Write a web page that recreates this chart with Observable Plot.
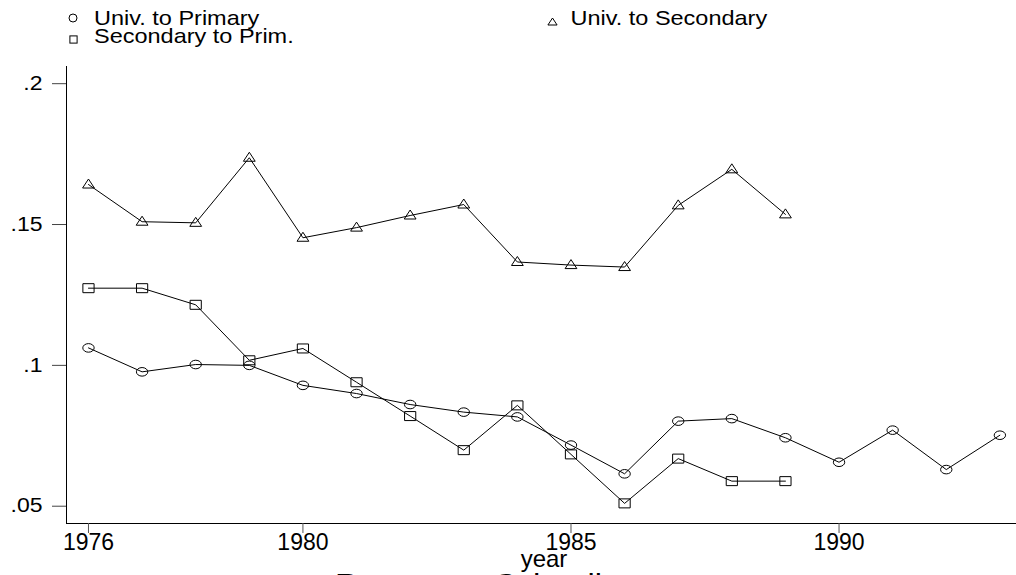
<!DOCTYPE html>
<html><head><meta charset="utf-8">
<script src="https://cdn.jsdelivr.net/npm/d3@7"></script>
<script src="https://cdn.jsdelivr.net/npm/@observablehq/plot@0.6"></script>
<style>
html,body{margin:0;padding:0;background:#fff;overflow:hidden;}
#wrap{position:relative;width:1016px;height:575px;overflow:hidden;font-family:"Liberation Sans",Arial,Helvetica,sans-serif;background:#fff;}
#legend,#chart svg{display:block;}
#bottom{position:absolute;left:0;top:540px;}
</style></head><body><div id="wrap"><div id="legend"></div><div id="chart"></div></div>
<script>
// ---- data ----
const yearsPrimary = [1976,1977,1978,1979,1980,1981,1982,1983,1984,1985,1986,1987,1988,1989,1990,1991,1992,1993];
const univToPrimary = [0.1062,0.0977,0.1003,0.1000,0.0929,0.0900,0.0861,0.0834,0.0817,0.0717,0.0615,0.0802,0.0811,0.0743,0.0656,0.0770,0.0630,0.0752];
const yearsSecondary = [1976,1977,1978,1979,1980,1981,1982,1983,1984,1985,1986,1987,1988,1989];
const univToSecondary = [0.1642,0.1510,0.1506,0.1737,0.1453,0.1489,0.1532,0.1571,0.1367,0.1356,0.1349,0.1568,0.1696,0.1536];
const secondaryToPrim = [0.1274,0.1274,0.1215,0.1018,0.1060,0.0940,0.0820,0.0699,0.0858,0.0684,0.0510,0.0669,0.0589,0.0589];
const seriesNames = ["Univ. to Primary","Univ. to Secondary","Secondary to Prim."];
const xTicks = [1976,1980,1985,1990];
const xTickLabels = ["1976","1980","1985","1990"];
const yTicks = [0.05,0.1,0.15,0.2];
const yTickLabels = [".05",".1",".15",".2"];
const xDomain = [1975.59,1993.31];
const yDomain = [0.04386,0.2061];
const xTitle = "year";
const chartTitle = "Returns to Schooling";

// ---- symbols ----
const ellipseSym = {draw(ctx){const rx=5.7,ry=4.3,k=0.5523;
  ctx.moveTo(rx,0);ctx.bezierCurveTo(rx,ry*k,rx*k,ry,0,ry);ctx.bezierCurveTo(-rx*k,ry,-rx,ry*k,-rx,0);
  ctx.bezierCurveTo(-rx,-ry*k,-rx*k,-ry,0,-ry);ctx.bezierCurveTo(rx*k,-ry,rx,-ry*k,rx,0);ctx.closePath();}};
const squareSym = {draw(ctx){ctx.rect(-5.6,-4.5,11.2,9);}};
const triangleSym = {draw(ctx){ctx.moveTo(0,-5.5);ctx.lineTo(5.9,3.5);ctx.lineTo(-5.9,3.5);ctx.closePath();}};

const dPrim = yearsPrimary.map((y,i)=>({year:y,value:univToPrimary[i]}));
const dSec = yearsSecondary.map((y,i)=>({year:y,value:univToSecondary[i]}));
const dSP = yearsSecondary.map((y,i)=>({year:y,value:secondaryToPrim[i]}));

// ---- legend ----
const font = '"Liberation Sans",Arial,Helvetica,sans-serif';
const leg = d3.select("#legend").append("svg").attr("width",1016).attr("height",60);
const legItems = [
  {name:seriesNames[0], sx:73, sy:18, tx:94, ty:25, shape:"c"},
  {name:seriesNames[2], sx:73.5, sy:39.5, tx:94, ty:43.3, shape:"s"},
  {name:seriesNames[1], sx:552.5, sy:22, tx:570.5, ty:25, shape:"t"}
];
legItems.forEach(it=>{
  if(it.shape==="c") leg.append("circle").attr("cx",it.sx).attr("cy",it.sy).attr("r",4).attr("fill","none").attr("stroke","#000");
  if(it.shape==="s") leg.append("rect").attr("x",it.sx-3.6).attr("y",it.sy-3.6).attr("width",7.2).attr("height",7.2).attr("fill","none").attr("stroke","#000");
  if(it.shape==="t") leg.append("path").attr("d",`M${it.sx},${it.sy-4}L${it.sx+4.6},${it.sy+3}L${it.sx-4.6},${it.sy+3}Z`).attr("fill","none").attr("stroke","#000");
  leg.append("text").attr("transform",`translate(${it.tx},${it.ty}) scale(1,0.84)`).attr("font-family",font).attr("font-size",23.5).attr("fill","#000").text(it.name);
});

// ---- chart ----
const chart = Plot.plot({
  width:1016, height:515, marginLeft:66, marginRight:0, marginTop:2, marginBottom:56,
  style:{fontFamily:font, background:"white", color:"black"},
  x:{domain:xDomain}, y:{domain:yDomain},
  marks:[
    Plot.ruleX([xDomain[0]],{stroke:"#000",strokeWidth:1}),
    Plot.ruleY([yDomain[0]],{stroke:"#000",strokeWidth:1}),
    Plot.axisX(xTicks,{tickFormat:d=>xTickLabels[xTicks.indexOf(d)],tickSize:10,tickPadding:0,fontSize:23,label:null,stroke:"#555"}),
    Plot.axisY(yTicks,{tickFormat:d=>yTickLabels[yTicks.indexOf(d)],tickSize:14,tickPadding:10,fontSize:23,label:null,stroke:"#444"}),
    Plot.line(dSec,{x:"year",y:"value",stroke:"#000",strokeWidth:1}),
    Plot.line(dSP,{x:"year",y:"value",stroke:"#000",strokeWidth:1}),
    Plot.line(dPrim,{x:"year",y:"value",stroke:"#000",strokeWidth:1}),
    Plot.dot(dSec,{x:"year",y:"value",symbol:triangleSym,stroke:"#000",fill:"none",strokeWidth:1}),
    Plot.dot(dSP,{x:"year",y:"value",symbol:squareSym,stroke:"#000",fill:"none",strokeWidth:1}),
    Plot.dot(dPrim,{x:"year",y:"value",symbol:ellipseSym,stroke:"#000",fill:"none",strokeWidth:1})
  ]
});
document.getElementById("chart").appendChild(chart);
d3.select(chart).selectAll('g[aria-label="y-axis tick label"] text').each(function(){
  const t=this.getAttribute("transform")||"";
  this.setAttribute("transform",t+" scale(1,0.84)");
});

// ---- bottom texts ----
const bot = d3.select("#wrap").append("svg").attr("id","bottom").attr("width",1016).attr("height",70);
bot.append("text").attr("x",544).attr("y",27).attr("text-anchor","middle").attr("font-family",font).attr("font-size",24).text(xTitle);
bot.append("text").attr("x",335).attr("y",56.5).attr("font-family",font).attr("font-size",32.7).text(chartTitle);
</script></body></html>
